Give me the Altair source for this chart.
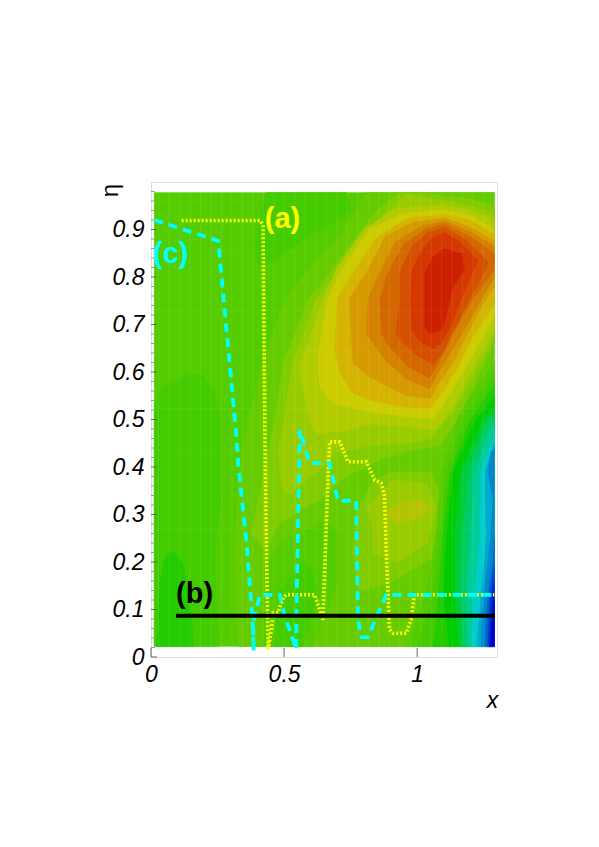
import altair as alt
import pandas as pd

FONT = "Liberation Sans"

# Filled contour bands of the map, lowest first: (x, eta) outlines
base = [(.012,.022),(1.29,.022),(1.29,.978),(.012,.978)]
p66 = [(.81,.978),(.71,.888),(.61,.83),(.5,.751),(.434,.646),(.378,.534),(.346,.45),(.3275,.366),(.3125,.226),(.315,.12),(.3275,.022),(1.29,.022),(1.29,.978)]
p88 = [(.93,.978),(1.02,.978),(1.10,.97),(1.2,.965),(1.29,.95),(1.29,.66),(1.22,.58),(1.15,.50),(1.084,.445),(.984,.436),(.859,.415),(.734,.38),(.634,.331),(.484,.282),(.4275,.226),(.378,.26),(.42,.38),(.465,.5),(.496,.618),(.59,.751),(.66,.80),(.75,.87),(.85,.94)]
p99 = [(.96,.975),(1.10,.96),(1.2,.95),(1.29,.935),(1.29,.675),(1.21,.59),(1.14,.52),(1.05,.46),(.97,.45),(.82,.445),(.70,.43),(.634,.394),(.515,.341),(.49,.359),(.478,.436),(.50,.5),(.53,.618),(.62,.751),(.69,.80),(.77,.87),(.87,.93)]
paa = [(1.10,.951),(1.2,.94),(1.29,.92),(1.29,.69),(1.2,.6),(1.14,.53),(1.07,.478),(.97,.485),(.82,.49),(.72,.475),(.62,.47),(.60,.49),(.571,.562),(.5588,.611),(.646,.751),(.70,.82),(.80,.90),(.92,.945)]
pyellow = [(1.10,.941),(1.2,.93),(1.29,.90),(1.29,.716),(1.234,.66),(1.17,.597),(1.109,.541),(1.059,.502),(.97,.505),(.82,.516),(.684,.534),(.634,.569),(.6275,.611),(.63,.646),(.665,.755),(.72,.82),(.82,.90),(.95,.935)]
pgold = [(1.10,.931),(1.2,.92),(1.29,.89),(1.29,.744),(1.259,.716),(1.209,.674),(1.146,.604),(1.096,.558),(1.046,.523),(.96,.525),(.82,.541),(.76,.555),(.71,.597),(.69,.646),(.70,.755),(.76,.81),(.85,.885),(.97,.925)]
pc5 = [(1.10,.924),(1.2,.905),(1.29,.875),(1.29,.78),(1.234,.73),(1.196,.688),(1.134,.618),(1.08,.576),(1.05,.544),(.96,.55),(.82,.59),(.7588,.618),(.7525,.667),(.746,.755),(.81,.81),(.88,.885),(.98,.915)]
pc4 = [(1.10,.918),(1.2,.895),(1.29,.865),(1.29,.80),(1.209,.72),(1.17,.682),(1.12,.635),(1.08,.60),(1.046,.565),(.96,.585),(.88,.625),(.81,.681),(.815,.755),(.86,.81),(.92,.875),(1.01,.905)]
pc3 = [(1.10,.912),(1.2,.885),(1.29,.85),(1.29,.815),(1.2,.745),(1.146,.693),(1.109,.65),(1.08,.618),(1.046,.588),(.97,.61),(.90,.65),(.865,.681),(.86,.755),(.89,.81),(.95,.87),(1.03,.90)]
pc2 = [(1.10,.905),(1.18,.88),(1.27,.83),(1.19,.745),(1.13,.68),(1.09,.635),(1.06,.615),(1.0,.635),(.95,.66),(.92,.681),(.934,.755),(.934,.81),(.98,.865),(1.04,.893)]
pc1 = [(1.10,.894),(1.16,.875),(1.228,.835),(1.17,.76),(1.13,.70),(1.09,.66),(1.06,.649),(1.01,.665),(.978,.688),(.975,.755),(.978,.81),(1.01,.85),(1.05,.88)]
pred = [(1.10,.86),(1.17,.849),(1.178,.814),(1.134,.779),(1.109,.716),(1.09,.688),(1.046,.681),(1.028,.695),(1.028,.807),(1.059,.842)]

# the small bump near x = 1, eta = 0.3
ring3 = [(.91,.39),(1.05,.39),(1.10,.33),(1.07,.212),(.896,.156),(.784,.138),(.756,.219),(.77,.30),(.83,.37)]
ring2 = [(.806,.313),(.909,.373),(1.034,.366),(1.07,.317),(1.04,.24),(.92,.198),(.834,.219),(.83,.28)]
ring1 = [(.884,.31),(.959,.33),(1.015,.33),(1.05,.313),(1.009,.292),(.92,.281),(.89,.296)]

# low pockets
hole55 = [(.42,.022),(.43,.12),(.44,.2),(.484,.24),(.646,.285),(.70,.268),(.70,.156),(.646,.072),(.609,.022)]
hole44 = [(.46,.022),(.484,.14),(.571,.205),(.615,.17),(.625,.12),(.571,.022)]
left44 = [(.012,.022),(.012,.53),(.02,.55),(.059,.576),(.14,.594),(.196,.594),(.235,.56),(.265,.50),(.265,.345),(.246,.261),(.24,.19),(.253,.022)]
left22 = [(.021,.022),(.034,.163),(.053,.21),(.084,.224),(.121,.197),(.152,.086),(.159,.022)]
top44 = [(.39,.862),(.4025,.828),(.446,.828),(.559,.874),(.7525,.937),(.734,.978),(.434,.978),(.409,.933)]

# the falling edge on the right, outer to inner
k0 = [(.96,.022),(1.03,.13),(1.07,.25),(1.09,.39),(1.15,.50),(1.20,.55),(1.29,.62),(1.29,.022)]
k1 = [(1.00,.022),(1.06,.13),(1.085,.25),(1.11,.39),(1.175,.50),(1.23,.545),(1.29,.60),(1.29,.022)]
k2 = [(1.06,.022),(1.08,.13),(1.095,.25),(1.125,.39),(1.20,.50),(1.25,.54),(1.29,.575),(1.29,.022)]
k3 = [(1.12,.022),(1.10,.13),(1.11,.25),(1.135,.39),(1.22,.50),(1.26,.525),(1.29,.55),(1.29,.022)]
k4 = [(1.155,.022),(1.14,.13),(1.14,.25),(1.165,.39),(1.245,.50),(1.29,.525),(1.29,.022)]
k5 = [(1.175,.022),(1.16,.13),(1.17,.25),(1.19,.39),(1.26,.49),(1.29,.51),(1.29,.022)]
k6 = [(1.19,.022),(1.185,.13),(1.2,.25),(1.215,.39),(1.275,.48),(1.29,.495),(1.29,.022)]
k7 = [(1.205,.022),(1.215,.13),(1.235,.25),(1.24,.39),(1.285,.46),(1.29,.47),(1.29,.022)]
k8 = [(1.225,.022),(1.24,.13),(1.26,.25),(1.255,.39),(1.29,.45),(1.29,.022)]
k9 = [(1.24,.022),(1.25,.13),(1.275,.25),(1.285,.33),(1.265,.39),(1.275,.43),(1.29,.44),(1.29,.022)]
k10 = [(1.255,.022),(1.265,.13),(1.285,.2),(1.29,.25),(1.29,.022)]
k11 = [(1.265,.022),(1.272,.13),(1.29,.19),(1.29,.022)]
k12 = [(1.27,.022),(1.28,.13),(1.29,.16),(1.29,.022)]
k13 = [(1.275,.022),(1.285,.10),(1.29,.12),(1.29,.022)]

bands = [
    (base,"#55cc00"),(p66,"#66cc00"),(p88,"#80cc00"),(p99,"#99cc00"),(paa,"#b0cc00"),
    (pyellow,"#cccc00"),(pgold,"#d4b400"),(pc5,"#d49a00"),(pc4,"#d48000"),(pc3,"#d46800"),
    (pc2,"#d45000"),(pc1,"#d43800"),(pred,"#cc2000"),
    (ring3,"#80cc00"),(ring2,"#99cc00"),(ring1,"#b4c400"),
    (hole55,"#55cc00"),(hole44,"#44cc00"),(left44,"#44cc00"),(left22,"#22cc00"),(top44,"#44cc00"),
    (k0,"#55cc00"),(k1,"#44cc00"),(k2,"#22cc00"),(k3,"#00cc00"),(k4,"#00cc33"),(k5,"#00cc66"),
    (k6,"#00cc99"),(k7,"#00cccc"),(k8,"#00aacc"),(k9,"#0088cc"),(k10,"#0066cc"),(k11,"#0044cc"),
    (k12,"#0022cc"),(k13,"#0000cc"),
]

# faint stripes of the rendered map
stripe_x = [.0284,.0678,.1072,.1466,.186,.2254,.2648,.3042,.3436,.383,.4224,.4618,.5012,.5406,.58,.6194,.6588,.6982,.7376,.777,.8164,.8558,.8952,.9346,.974,1.0134,1.0528,1.0922,1.1316,1.171,1.2104,1.2498]
stripe_eta = [.853,.73,.646,.523,.436,.271]

# curves
curve_a = [(.115,.919),(.409,.919),(.421,.91),(.4275,.499),(.434,.219),(.44,.016),(.4525,.058),(.459,.093),(.477,.093),(.496,.125),(.509,.131),(.615,.131),(.646,.078),(.659,.289),(.671,.453),(.709,.453),(.74,.411),(.809,.411),(.84,.373),(.865,.366),(.8775,.338),(.884,.219),(.896,.058),(.909,.05),(.959,.05),(.9775,.079),(.99,.131),(1.29,.131)]
curve_c = [(.0125,.92),(.2525,.876),(.32,.471),(.3275,.408),(.359,.24),(.381,.079),(.386,.012),(.384,.0717),(.409,.131),(.484,.131),(.5025,.086),(.546,.016),(.546,.079),(.559,.478),(.596,.408),(.671,.408),(.7025,.329),(.771,.329),(.7775,.079),(.79,.042),(.815,.042),(.884,.131),(1.29,.131)]
curve_b = [(.094,.087),(1.2925,.087)]

y_major = [0,.1,.2,.3,.4,.5,.6,.7,.8,.9]
y_minor = [.02,.04,.06,.08,.12,.14,.16,.18,.22,.24,.26,.28,.32,.34,.36,.38,.42,.44,.46,.48,.52,.54,.56,.58,.62,.64,.66,.68,.72,.74,.76,.78,.82,.84,.86,.88,.92,.94,.96,.98]
x_major = [0,.5,1]

labels = [("(a)",.4275,.923,"#ffff00"),("(b)",.094,.133,"#000000"),("(c)",.0075,.848,"#00ffff")]

xs = alt.Scale(domain=[0,1.3],nice=False,zero=False)
ys = alt.Scale(domain=[0,1],nice=False,zero=False)
ax = alt.Axis(values=x_major,format="~g",ticks=False,domain=False,grid=False,
    labelFont=FONT,labelFontStyle="italic",labelFontSize=23,labelColor="#000",labelPadding=6,labelFlush=False,labelOverlap=False,
    title="x",titleFont=FONT,titleFontStyle="italic",titleFontWeight="normal",titleFontSize=23,titleColor="#000",titleX=341,titleY=32)
ay = alt.Axis(values=y_major,format="~g",ticks=False,domain=False,grid=False,
    labelFont=FONT,labelFontStyle="italic",labelFontSize=23,labelColor="#000",labelPadding=7,labelOverlap=False,
    title="η",titleFont=FONT,titleFontStyle="normal",titleFontWeight="normal",titleFontSize=24,titleColor="#000",titleAngle=270,titleX=-29,titleY=8)
X = alt.X("x:Q",scale=xs,axis=ax)
Y = alt.Y("y:Q",scale=ys,axis=ay)

def frame(points, close=False):
    pts = list(points) + ([points[0]] if close else [])
    return pd.DataFrame({"x":[p[0] for p in pts],"y":[p[1] for p in pts],"i":range(len(pts))})

layers = []

for pts,col in bands:
    layers.append(alt.Chart(frame(pts,True)).mark_line(fill=col,stroke=col,strokeWidth=0.4,clip=True).encode(x=X,y=Y,order="i:Q"))

layers.append(alt.Chart(pd.DataFrame({"x":stripe_x})).mark_rule(color="#ffffff",opacity=0.09,strokeWidth=1).encode(
    x=X,y=alt.value(10),y2=alt.value(465)))
layers.append(alt.Chart(pd.DataFrame({"y":stripe_eta})).mark_rule(color="#ffffff",opacity=0.06,strokeWidth=1).encode(
    y=Y,x=alt.value(4),x2=alt.value(344)))

layers.append(alt.Chart(pd.DataFrame({"y":y_minor})).mark_rule(color="#999999",strokeWidth=1).encode(y=Y,x=alt.value(0),x2=alt.value(4)))
layers.append(alt.Chart(pd.DataFrame({"y":y_major})).mark_rule(color="#666666",strokeWidth=1).encode(y=Y,x=alt.value(0),x2=alt.value(6)))
layers.append(alt.Chart(pd.DataFrame({"x":x_major})).mark_rule(color="#666666",strokeWidth=1).encode(x=X,y=alt.value(475),y2=alt.value(466)))

layers.append(alt.Chart(frame(curve_a)).mark_line(color="#ffff00",strokeWidth=3.6,strokeDash=[2,2]).encode(x=X,y=Y,order="i:Q"))
layers.append(alt.Chart(frame(curve_c)).mark_line(color="#00ffff",strokeWidth=3.8,strokeDash=[9,6]).encode(x=X,y=Y,order="i:Q"))
layers.append(alt.Chart(frame(curve_b)).mark_line(color="#000000",strokeWidth=4).encode(x=X,y=Y,order="i:Q"))

for txt,lx,ly,col in labels:
    layers.append(alt.Chart(pd.DataFrame({"x":[lx],"y":[ly],"t":[txt]})).mark_text(
        font=FONT,fontWeight="bold",fontSize=29,align="left",baseline="middle",color=col).encode(x=X,y=Y,text="t:N"))

chart = alt.layer(*layers).properties(
    width=346,height=475,
    padding={"left":143,"top":174,"right":80,"bottom":160},
    autosize=alt.AutoSizeParams(type="none"),
).configure_view(stroke="#555555",strokeWidth=1).configure(background="#ffffff")

chart.save("out.html", embed_options={"renderer":"svg","actions":False})
